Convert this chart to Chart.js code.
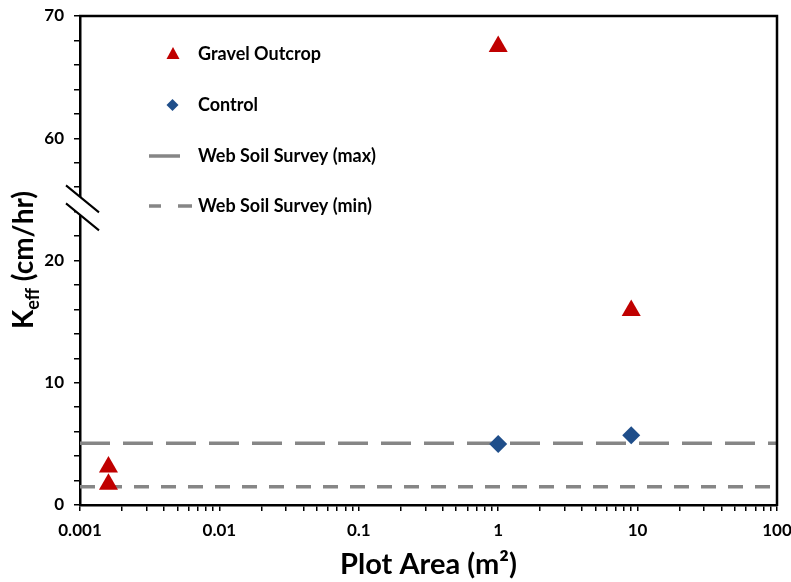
<!DOCTYPE html>
<html>
<head>
<meta charset="utf-8">
<script src="https://cdn.jsdelivr.net/npm/chart.js@4.4.1/dist/chart.umd.min.js"></script>
<style>
  html, body { margin: 0; padding: 0; background: #fff; }
</style>
</head>
<body>
<canvas id="chart" width="791" height="582"></canvas>
<script>
// data
const gravelArea = [0.0016, 0.0016, 1, 9];
const gravelK = [3.1, 1.7, 67.5, 15.9];
const controlArea = [1, 9];
const controlK = [5.0, 5.7];
const surveyArea = [0.001, 100];
const surveyMax = [5.05, 5.05];
const surveyMin = [1.5, 1.5];

const xTickValues = [0.001, 0.01, 0.1, 1, 10, 100];
const xTickText = ['0.001', '0.01', '0.1', '1', '10', '100'];
const yTickSlots = [0, 10, 20, 30, 40];
const yTickText = ['0', '10', '20', '60', '70'];
const legendText = ['Gravel Outcrop', 'Control', 'Web Soil Survey (max)', 'Web Soil Survey (min)'];

const FONT = 'Lato';
const RED = '#C00000';
const BLUE = '#1F4E8A';
const GRAY = '#868686';

// broken y axis: everything from 60 up is shifted down so 60 sits one step above 20
const BREAK_LOW = 20, BREAK_HIGH = 60, BREAK_STEP = 10;
function toAxis(v) {
  return v >= BREAK_HIGH ? v - (BREAK_HIGH - BREAK_LOW - BREAK_STEP) : v;
}
function points(xs, ys) {
  return xs.map((x, i) => ({ x: x, y: toAxis(ys[i]) }));
}

// decade ticks plus 2..9 minors
const xTicks = [];
xTickValues.forEach((d, i) => {
  const last = i === xTickValues.length - 1;
  for (let m = 1; m < 10; m++) {
    if (last && m > 1) break;
    xTicks.push(d * m);
  }
});

const frame = {
  id: 'frame',
  afterDraw(chart) {
    const ctx = chart.ctx;
    const a = chart.chartArea;
    const y = chart.scales.y;
    ctx.save();

    // top and right border
    ctx.strokeStyle = '#000';
    ctx.lineWidth = 2.5;
    ctx.beginPath();
    ctx.moveTo(a.left - 1, a.top);
    ctx.lineTo(a.right, a.top);
    ctx.lineTo(a.right, a.bottom + 1);
    ctx.stroke();

    // break marks on the y axis
    const by = y.getPixelForValue(BREAK_LOW + BREAK_STEP / 2);
    const x0 = a.left - 14, x1 = a.left + 19;
    const dy = 14;
    ctx.fillStyle = '#fff';
    ctx.beginPath();
    ctx.moveTo(x0, by - dy);
    ctx.lineTo(x1, by - dy + 27);
    ctx.lineTo(x1, by + dy - 10 + 27);
    ctx.lineTo(x0, by + dy - 10);
    ctx.closePath();
    ctx.fill();
    ctx.lineWidth = 2;
    ctx.beginPath();
    ctx.moveTo(x0, by - dy);
    ctx.lineTo(x1, by - dy + 27);
    ctx.moveTo(x0, by + dy - 10);
    ctx.lineTo(x1, by + dy - 10 + 27);
    ctx.stroke();

    // y axis title with subscript
    ctx.fillStyle = '#000';
    ctx.translate(23, 260);
    ctx.rotate(-Math.PI / 2);
    const big = 'bold 28px ' + FONT, small = 'bold 18px ' + FONT;
    ctx.font = big;
    const wK = ctx.measureText('K').width;
    const wRest = ctx.measureText(' (cm/hr)').width;
    ctx.font = small;
    const wSub = ctx.measureText('eff').width;
    let sx = -(wK + wSub + wRest) / 2;
    ctx.textBaseline = 'alphabetic';
    ctx.font = big;
    ctx.fillText('K', sx, 10);
    ctx.font = small;
    ctx.fillText('eff', sx + wK, 16);
    ctx.font = big;
    ctx.fillText(' (cm/hr)', sx + wK + wSub, 10);
    ctx.restore();

    // legend
    ctx.save();
    ctx.font = 'bold 18px ' + FONT;
    ctx.fillStyle = '#000';
    ctx.textBaseline = 'middle';
    const rows = [54, 105, 156, 206];
    legendText.forEach((t, i) => ctx.fillText(t, 198, rows[i]));

    ctx.fillStyle = RED;
    ctx.beginPath();
    ctx.moveTo(173, rows[0] - 7);
    ctx.lineTo(179.5, rows[0] + 5);
    ctx.lineTo(166.5, rows[0] + 5);
    ctx.closePath();
    ctx.fill();

    ctx.fillStyle = BLUE;
    ctx.beginPath();
    ctx.moveTo(172.5, rows[1] - 6);
    ctx.lineTo(178.5, rows[1]);
    ctx.lineTo(172.5, rows[1] + 6);
    ctx.lineTo(166.5, rows[1]);
    ctx.closePath();
    ctx.fill();

    ctx.strokeStyle = GRAY;
    ctx.lineWidth = 3.5;
    ctx.beginPath();
    ctx.moveTo(149, rows[2]);
    ctx.lineTo(180, rows[2]);
    ctx.moveTo(149, rows[3]);
    ctx.lineTo(161, rows[3]);
    ctx.moveTo(178, rows[3]);
    ctx.lineTo(192, rows[3]);
    ctx.stroke();
    ctx.restore();
  }
};

const tickFont = { family: FONT, size: 17, weight: 'bold' };

new Chart(document.getElementById('chart'), {
  type: 'scatter',
  data: {
    datasets: [
      {
        label: legendText[0],
        data: points(gravelArea, gravelK),
        pointStyle: 'triangle',
        pointRadius: 11,
        backgroundColor: RED,
        borderColor: RED,
        borderWidth: 0
      },
      {
        label: legendText[1],
        data: points(controlArea, controlK),
        pointStyle: 'rectRot',
        pointRadius: 9,
        backgroundColor: BLUE,
        borderColor: BLUE,
        borderWidth: 0
      },
      {
        label: legendText[2],
        data: points(surveyArea, surveyMax),
        showLine: true,
        pointRadius: 0,
        borderColor: GRAY,
        borderWidth: 3.5,
        borderDash: [30, 13]
      },
      {
        label: legendText[3],
        data: points(surveyArea, surveyMin),
        showLine: true,
        pointRadius: 0,
        borderColor: GRAY,
        borderWidth: 3.5,
        borderDash: [15, 12]
      }
    ]
  },
  options: {
    responsive: false,
    animation: false,
    layout: { padding: { left: 0, top: 16, right: 14, bottom: 0 } },
    plugins: {
      legend: { display: false },
      tooltip: { enabled: false }
    },
    scales: {
      x: {
        type: 'logarithmic',
        min: 0.001,
        max: 100,
        afterBuildTicks: s => { s.ticks = xTicks.map(v => ({ value: v })); },
        afterFit: s => { s.height = 77; s.paddingLeft = 0; s.paddingRight = 0; },
        ticks: {
          autoSkip: false,
          maxRotation: 0,
          padding: 9,
          color: '#000',
          font: tickFont,
          callback: v => {
            const i = xTickValues.findIndex(d => Math.abs(d - v) < d * 1e-6);
            return i >= 0 ? xTickText[i] : '';
          }
        },
        grid: { drawOnChartArea: false, drawTicks: true, tickLength: 6, color: '#000', lineWidth: 1.5 },
        border: { display: true, color: '#000', width: 2.5 },
        title: {
          display: true,
          text: 'Plot Area (m²)',
          color: '#000',
          font: { family: FONT, size: 29, weight: 'bold' },
          padding: { top: 0, bottom: 0 }
        }
      },
      y: {
        min: 0,
        max: 40,
        afterFit: s => { s.width = 80; s.paddingTop = 0; s.paddingBottom = 0; },
        ticks: {
          stepSize: 2,
          autoSkip: false,
          padding: 10,
          color: '#000',
          font: tickFont,
          callback: v => {
            const i = yTickSlots.indexOf(v);
            return i >= 0 ? yTickText[i] : '';
          }
        },
        grid: { drawOnChartArea: false, drawTicks: true, tickLength: 6, color: '#000', lineWidth: 1.5 },
        border: { display: true, color: '#000', width: 2.5 }
      }
    }
  },
  plugins: [frame]
});
</script>
</body>
</html>
